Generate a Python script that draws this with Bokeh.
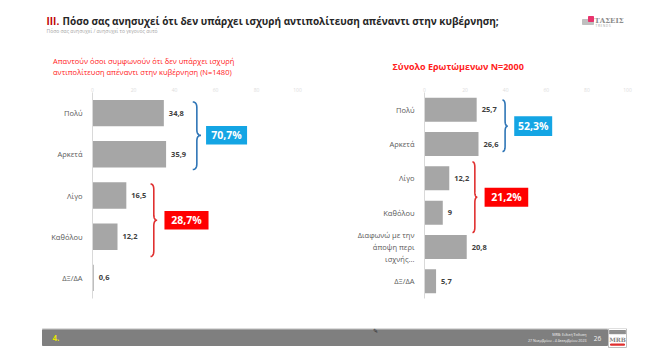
import numpy as np
from bokeh.plotting import figure
from bokeh.layouts import column, row
from bokeh.models import Range1d, FixedTicker, Label, ColumnDataSource
from bokeh.embed import file_html
from bokeh.resources import INLINE
from bokeh.core.properties import value

FONT = "Open Sans"

# ---------------- data ----------------
title_num = "III."
title_text = "Πόσο σας ανησυχεί ότι δεν υπάρχει ισχυρή αντιπολίτευση απέναντι στην κυβέρνηση;"
title_sub = "Πόσο σας ανησυχεί / ανησυχεί το γεγονός αυτό"

left_title = ["Απαντούν όσοι συμφωνούν ότι δεν υπάρχει ισχυρή",
              "αντιπολίτευση απέναντι στην κυβέρνηση (N=1480)"]
left_categories = ["Πολύ", "Αρκετά", "Λίγο", "Καθόλου", "ΔΞ/ΔΑ"]
left_values = [34.8, 35.9, 16.5, 12.2, 0.6]

right_title = "Σύνολο Ερωτώμενων N=2000"
right_categories = ["Πολύ", "Αρκετά", "Λίγο", "Καθόλου",
                    "Διαφωνώ με την\nάποψη περι\nισχνής...", "ΔΞ/ΔΑ"]
right_values = [25.7, 26.6, 12.2, 9, 20.8, 5.7]

x_ticks = [0, 20, 40, 60, 80, 100]
group_high = [0, 1]   # Πολύ + Αρκετά
group_low = [2, 3]    # Λίγο + Καθόλου

footer_page = "26"
footer_num = "4."
footer_lines = ["MRB: Ειδική Έκδοση", "27 Νοεμβρίου - 4 Δεκεμβρίου 2023"]

BAR = "#a6a6a6"
BLUE_BOX = "#14a5e4"
BLUE_BRACE = "#2e75b6"
RED_BOX = "#ff0000"
RED_BRACE = "#e03030"


def fmt(v):
    return f"{v:g}".replace(".", ",")


def lab(p, x, y, text, size, color, bold=False, align="left", font=FONT):
    p.add_layout(Label(x=x, y=y, text=text, text_font=font,
                       text_font_size=f"{size}px", text_color=color,
                       text_font_style="bold" if bold else "normal",
                       text_align=align, text_baseline="middle"))


def blank(w, h):
    p = figure(width=w, height=h, x_range=Range1d(0, w), y_range=Range1d(h, 0),
               output_backend="svg", toolbar_location=None, min_border=0,
               x_axis_location=None, y_axis_location=None)
    p.grid.visible = False
    p.outline_line_color = None
    p.background_fill_color = "white"
    p.border_fill_color = "white"
    return p


# ---------------- header ----------------
header = blank(650, 78)
lab(header, 46, 20, title_num, 10, "#c00000", bold=True)
lab(header, 62, 20, title_text, 10, "#262626", bold=True)
lab(header, 46, 30.5, title_sub, 5, "#a6a6a6")
# logo
header.quad(left=582, right=593, top=19, bottom=24, color="#bfbfbf")
header.quad(left=588, right=593, top=16, bottom=21, color="#e8336d")
lab(header, 594, 20, "ΤΑΣΕΙΣ", 7, "#8c8c8c", bold=True, font="DejaVu Serif")
lab(header, 595, 25.5, "T R E N D S", 3, "#a0a0a0")
# panel titles
lab(header, 52.5, 60, left_title[0], 7.5, "#ff2020")
lab(header, 52.5, 71.5, left_title[1], 7.5, "#ff2020")
lab(header, 392, 65.5, right_title, 9, "#ff2020", bold=True)


# ---------------- charts ----------------
def chart(cats, vals, width, bl, br, bt, bb, bar_h):
    n = len(cats)
    p = figure(width=width, height=250, x_range=Range1d(0, 100),
               y_range=Range1d(n - 0.5, -0.5), output_backend="svg",
               toolbar_location=None, x_axis_location="above",
               min_border_left=bl, min_border_right=br,
               min_border_top=bt, min_border_bottom=bb)
    p.grid.visible = False
    p.outline_line_color = None
    p.background_fill_color = "white"
    p.border_fill_color = "white"

    xa = p.xaxis[0]
    xa.ticker = FixedTicker(ticks=x_ticks)
    xa.axis_line_color = None
    xa.major_tick_line_color = None
    xa.minor_tick_line_color = None
    xa.major_tick_out = 0
    xa.major_tick_in = 0
    xa.major_label_standoff = 1
    xa.major_label_text_font = FONT
    xa.major_label_text_font_size = "5px"
    xa.major_label_text_color = "#dcdcdc"

    ya = p.yaxis[0]
    ya.ticker = FixedTicker(ticks=list(range(n)))
    ya.major_label_overrides = {i: c for i, c in enumerate(cats)}
    ya.axis_line_color = "#d9d9d9"
    ya.axis_line_width = 1
    ya.major_tick_line_color = None
    ya.minor_tick_line_color = None
    ya.major_tick_out = 0
    ya.major_tick_in = 0
    ya.major_label_standoff = 10
    ya.major_label_text_font = FONT
    ya.major_label_text_font_size = "7.5px"
    ya.major_label_text_color = "#595959"

    src = ColumnDataSource(dict(y=list(range(n)), v=vals, lbl=[fmt(v) for v in vals]))
    p.hbar(y="y", left=0, right="v", height=bar_h, source=src,
           fill_color=BAR, line_color=None)
    p.text(x="v", y="y", text="lbl", source=src, x_offset=5,
           text_baseline="middle", text_align="left",
           text_font=value(FONT), text_font_style="bold",
           text_font_size="7.5px", text_color="#404040")
    return p


def brace(p, x, y0, y1, ym, w, r, color):
    def qb(a, c, b, k=10):
        t = np.linspace(0, 1, k)
        return ((1 - t) ** 2 * a[0] + 2 * (1 - t) * t * c[0] + t ** 2 * b[0],
                (1 - t) ** 2 * a[1] + 2 * (1 - t) * t * c[1] + t ** 2 * b[1])
    xm = x + w / 2
    segs = [qb((x, y0), (xm, y0), (xm, y0 + r)),
            qb((xm, ym - r), (xm, ym), (x + w, ym)),
            qb((x + w, ym), (xm, ym), (xm, ym + r)),
            qb((xm, y1 - r), (xm, y1), (x, y1))]
    xs = np.concatenate([s[0] for s in segs])
    ys = np.concatenate([s[1] for s in segs])
    p.line(xs, ys, line_color=color, line_width=1.6)


def group_box(p, vals, idx, offset, w, y0, y1, ym, r, gap, bw, bh, brace_col, box_col):
    bx = max(vals[i] for i in idx) + offset
    brace(p, bx, y0, y1, ym, w, r, brace_col)
    left = bx + w + gap
    total = sum(vals[i] for i in idx)
    p.quad(left=left, right=left + bw, top=ym - bh / 2, bottom=ym + bh / 2,
           fill_color=box_col, line_color=None)
    p.text(x=[left + bw / 2], y=[ym], text=[fmt(round(total, 1)) + "%"],
           text_align="center", text_baseline="middle",
           text_font=value(FONT), text_font_style="bold",
           text_font_size="10.5px", text_color="white")


left = chart(left_categories, left_values, 325, 92, 28, 11, 28, 0.64)
group_box(left, left_values, group_high, 13.0, 4.0, -0.27, 1.37, 0.54, 0.14,
          2.5, 20.0, 0.45, BLUE_BRACE, BLUE_BOX)
group_box(left, left_values, group_low, 11.8, 3.2, 1.72, 3.48, 2.6, 0.14,
          3.6, 21.5, 0.45, RED_BRACE, RED_BOX)

right = chart(right_categories, right_values, 325, 99, 23, 14, 30, 0.70)
group_box(right, right_values, group_high, 11.8, 2.6, -0.28, 1.22, 0.48, 0.16,
          3.2, 18.7, 0.57, BLUE_BRACE, BLUE_BOX)
group_box(right, right_values, group_low, 11.4, 2.4, 1.52, 3.58, 2.55, 0.16,
          3.6, 21.5, 0.55, RED_BRACE, RED_BOX)

# ---------------- footer ----------------
footer = blank(650, 23)
footer.quad(left=42, right=607, top=0, bottom=1.5, color="#c8c8c8")
footer.quad(left=42, right=607, top=1.5, bottom=17, color="#7f7f7f")
lab(footer, 52, 9.5, footer_num, 8, "#e6e600", bold=True)
lab(footer, 372, 2.5, "✎", 6, "#333333")
lab(footer, 586, 6, footer_lines[0], 3.6, "#f2f2f2", align="right")
lab(footer, 586, 11.5, footer_lines[1], 3.6, "#f2f2f2", align="right")
lab(footer, 597, 9.5, footer_page, 6.5, "#f2f2f2", align="center")
footer.quad(left=608, right=626, top=0, bottom=19, fill_color="white", line_color="#bfbfbf")
footer.quad(left=609, right=625, top=2, bottom=3.2, color="#8c8c8c")
footer.quad(left=609, right=625, top=4, bottom=5.2, color="#8c8c8c")
lab(footer, 617, 10.5, "MRB", 6, "#7f7f7f", bold=True, align="center", font="DejaVu Serif")
footer.quad(left=610, right=624, top=15.5, bottom=16.7, color="#e03030")

layout = column(header, row(left, right, spacing=0), footer, spacing=0)
open("out.html", "w").write(file_html(layout, INLINE))
